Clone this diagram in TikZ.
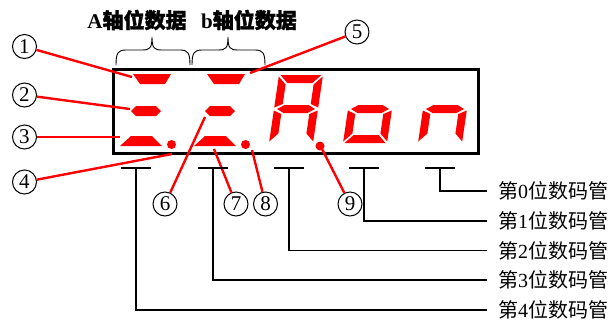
\documentclass[tikz,border=0pt]{standalone}
\usepackage{fontspec}
\setmainfont{Liberation Serif}
\newfontfamily\cjk{Noto Sans CJK SC}
\newfontfamily\cjkb[FakeBold=1.5]{Noto Sans CJK SC}
\begin{document}
\begin{tikzpicture}[x=1pt,y=-1pt,
  seg/.style={fill=red,draw=none},
  leader/.style={draw=red,line width=2.4pt},
  tube/.style={draw=black,line width=1.4pt},
  cnum/.style={circle,draw=black,line width=1pt,minimum size=24pt,inner sep=0pt,font=\fontsize{21}{21}\selectfont},
  lbl/.style={anchor=west,inner sep=0pt,font=\fontsize{20}{20}\selectfont},
  hdr/.style={inner sep=0pt,font=\fontsize{21}{21}\selectfont\bfseries},
  brace/.style={draw=black,line width=0.9pt}]
\useasboundingbox (0,0) rectangle (613,325);

% panel
\node[draw=black,line width=3pt,minimum width=365pt,minimum height=84pt,inner sep=0pt] (panel) at (295.5,111) {};

% headers and braces
\node[hdr] (hA) at (137,20) {A{\cjkb 轴位数据}};
\node[hdr] (hB) at (249,20) {b{\cjkb 轴位数据}};
\draw[brace] (116,65) .. controls (116,53) and (118,50) .. (126,50) -- (142,50) .. controls (150,50) and (152,48) .. (152,37) .. controls (152,48) and (154,50) .. (162,50) -- (180,50) .. controls (188,50) and (190,53) .. (190,65);
\draw[brace] (192,65) .. controls (192,53) and (194,50) .. (202,50) -- (218,50) .. controls (226,50) and (228,48) .. (228,37) .. controls (228,48) and (230,50) .. (238,50) -- (255,50) .. controls (263,50) and (265,53) .. (265,65);

% digits 4 and 3: three horizontal segments and dot
\foreach \dx in {0,74} {
  \begin{scope}[shift={(\dx,0)}]
    \fill[seg] (133,74) -- (171,74) -- (165,84) -- (140,84) -- cycle;
    \fill[seg] (131,111) -- (136,106) -- (156,106) -- (161,111) -- (156,116) -- (136,116) -- cycle;
    \fill[seg] (120,146) -- (162,146) -- (152,136) -- (131,136) -- cycle;
    \fill[seg] (171.5,144.5) circle (4.5pt);
  \end{scope}
}

% digit 2: A
\begin{scope}[shift={(279,75)},xslant=0.147]
  \fill[seg] (1.5,0) -- (42.5,0) -- (34.5,8) -- (9.5,8) -- cycle;
  \fill[seg] (3,34) -- (10,30) -- (34,30) -- (41,34) -- (34,38) -- (10,38) -- cycle;
  \fill[seg] (0,1.5) -- (8,9.5) -- (8,29) -- (0,32.5) -- cycle;
  \fill[seg] (0,35.5) -- (8,39) -- (8,58.5) -- (0,66.5) -- cycle;
  \fill[seg] (44,1.5) -- (36,9.5) -- (36,29) -- (44,32.5) -- cycle;
  \fill[seg] (44,35.5) -- (36,39) -- (36,58.5) -- (44,66.5) -- cycle;
\end{scope}
\fill[seg] (320,146) circle (4.5pt);

% digit 1: o
\begin{scope}[shift={(353,75)},xslant=0.147]
  \fill[seg] (3,34) -- (10,30) -- (34,30) -- (41,34) -- (34,38) -- (10,38) -- cycle;
  \fill[seg] (1.5,68) -- (42.5,68) -- (34.5,60) -- (9.5,60) -- cycle;
  \fill[seg] (0,35.5) -- (8,39) -- (8,58.5) -- (0,66.5) -- cycle;
  \fill[seg] (44,35.5) -- (36,39) -- (36,58.5) -- (44,66.5) -- cycle;
\end{scope}

% digit 0: n
\begin{scope}[shift={(428,75)},xslant=0.147]
  \fill[seg] (3,34) -- (10,30) -- (34,30) -- (41,34) -- (34,38) -- (10,38) -- cycle;
  \fill[seg] (0,35.5) -- (8,39) -- (8,58.5) -- (0,66.5) -- cycle;
  \fill[seg] (44,35.5) -- (36,39) -- (36,58.5) -- (44,66.5) -- cycle;
\end{scope}

% circled labels
\node[cnum] (c1) at (24.5,46.5) {1};
\node[cnum] (c2) at (24.5,95) {2};
\node[cnum] (c3) at (24.5,137) {3};
\node[cnum] (c4) at (24.5,182) {4};
\node[cnum] (c5) at (357,32) {5};
\node[cnum] (c6) at (165,204) {6};
\node[cnum] (c7) at (236,204) {7};
\node[cnum] (c8) at (265.5,204) {8};
\node[cnum] (c9) at (350,204) {9};

\coordinate (p1) at (132,77);
\coordinate (p2) at (130,109);
\coordinate (p3) at (120,137);
\coordinate (p4) at (172,154);
\coordinate (p5) at (250,73);
\coordinate (p6) at (205,117);
\coordinate (p7) at (214,149);
\coordinate (p8) at (252,150);
\coordinate (p9) at (321,147);
\foreach \k in {1,...,9} { \draw[leader] (c\k) -- (p\k); }

% tube markers and labels
\foreach \k/\xs/\yr in {0/440/191,1/364/221,2/289/250.5,3/213/280,4/136/310} {
  \coordinate (s\k) at (\xs,168);
  \draw[tube] ([xshift=-15pt]s\k) -- ([xshift=15pt]s\k);
  \node[lbl] (t\k) at (498,\yr) {{\cjk 第}\k{\cjk 位数码管}};
  \draw[tube] (s\k) |- ([xshift=-11pt]t\k.west);
}
\end{tikzpicture}
\end{document}
